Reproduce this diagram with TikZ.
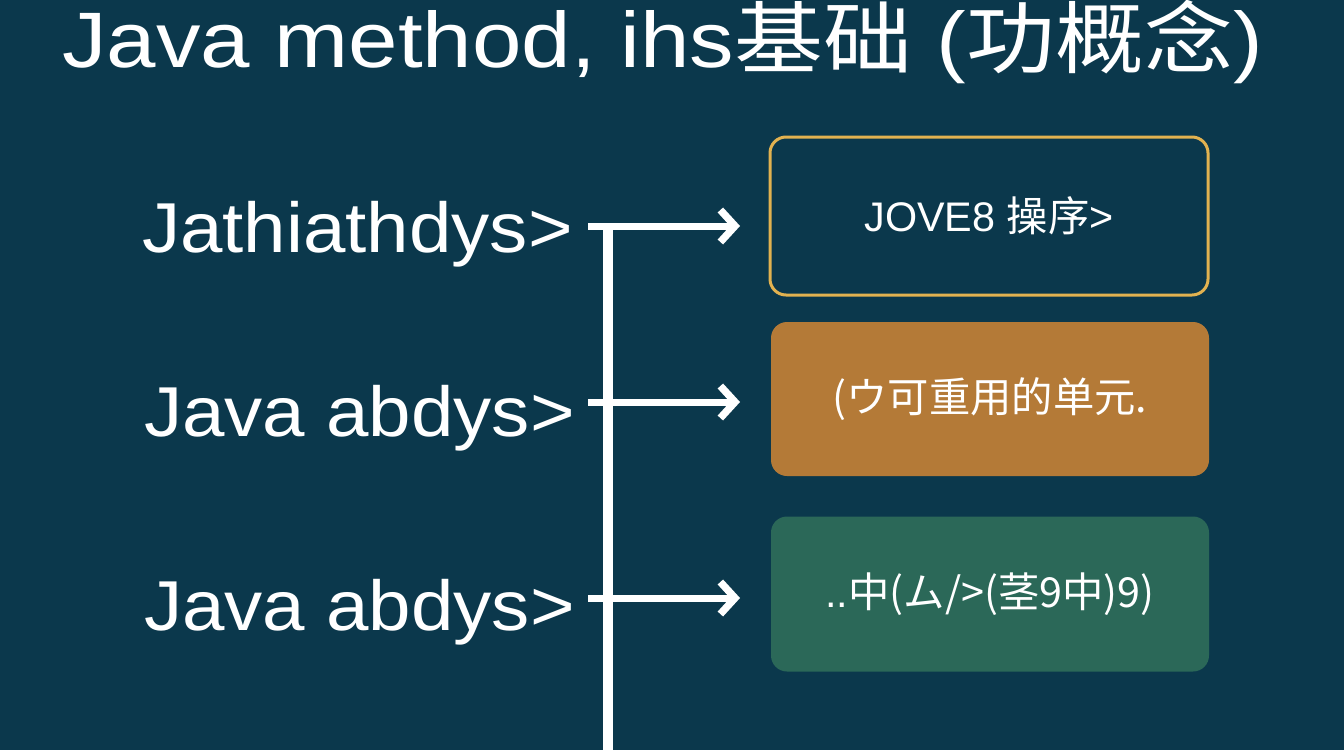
\documentclass[tikz,border=0pt]{standalone}
\usepackage{fontspec}
\setmainfont{Liberation Sans}
\newfontfamily\cjk{Noto Sans CJK SC}
\usetikzlibrary{arrows.meta}
\definecolor{bgc}{HTML}{0B384C}
\definecolor{goldc}{HTML}{E2B250}
\definecolor{orangec}{HTML}{B47A37}
\definecolor{greenc}{HTML}{2B6858}
\tikzset{
  card/.style={rounded corners=12, minimum width=438*0.75pt, minimum height=158*0.75pt, inner sep=0pt, text=white, font=\fontsize{31}{34}\selectfont},
  lbl/.style={text=white, inner sep=0pt, font=\fontsize{53}{56}\selectfont, anchor=base east, xscale=1.08, transform shape},
  conn/.style={draw=white, line width=7*0.75pt},
  arr/.style={conn, -{Straight Barb[length=11pt, width=24pt, line width=5.5pt]}},
}
\begin{document}
\begin{tikzpicture}[x=0.75pt,y=-0.75pt]
\fill[bgc] (0,0) rectangle (1344,750);
\useasboundingbox (0,0) rectangle (1344,750);
\node[text=white, font=\fontsize{59}{62}\selectfont, anchor=base west, inner sep=0pt, xscale=1.13, transform shape] (title) at (62,67) {Java method, ihs{\cjk 基础} ({\cjk 功概念})};

\node[card, draw=goldc, line width=3*0.75pt, fill=bgc] (b1) at (989,216) {JOVE8 {\cjk 操序}>};
\node[card, fill=orangec, minimum height=154*0.75pt] (b2) at (990,399) {\cjk (ウ可重用的单元.};
\node[card, fill=greenc, minimum height=155*0.75pt] (b3) at (990,594) {..{\cjk 中(ム/>(茎9中)9)}};

\node[lbl] (l1) at (573,252) {Jathiathdys>};
\node[lbl] (l2) at (575,436) {Java abdys>};
\node[lbl] (l3) at (575,630) {Java abdys>};

\coordinate (s1) at (588,226);
\coordinate (s2) at (588,402);
\coordinate (s3) at (588,598);
\coordinate (e1) at (740,226);
\coordinate (e2) at (740,402);
\coordinate (e3) at (740,598);
\coordinate (vt) at (608,226);
\coordinate (vb) at (608,750);
\draw[conn, line width=10*0.75pt] (vt) -- (vb);
\draw[arr] (s1) -- (e1);
\draw[arr] (s2) -- (e2);
\draw[arr] (s3) -- (e3);
\end{tikzpicture}
\end{document}
